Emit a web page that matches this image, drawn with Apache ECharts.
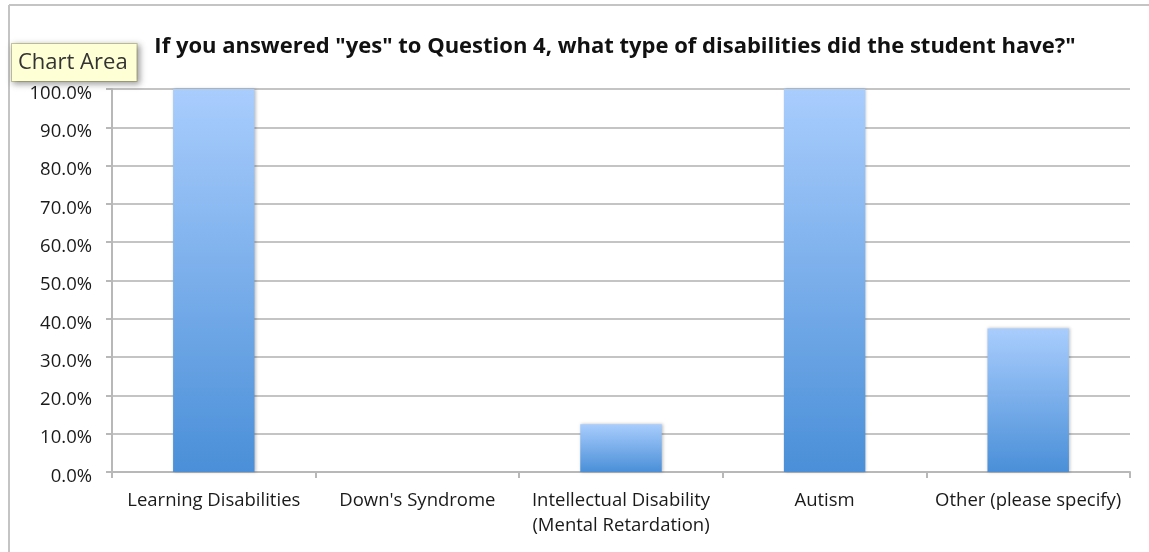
<!DOCTYPE html>
<html>
<head>
<meta charset="utf-8">
<script src="https://cdn.jsdelivr.net/npm/echarts@6/dist/echarts.min.js"></script>
<style>
html,body{margin:0;padding:0;background:#fff;}
#chart{width:1149px;height:552px;}
</style>
</head>
<body>
<div id="chart"></div>
<script>
// 数据
var categories = ['Learning Disabilities', "Down's Syndrome", 'Intellectual Disability\n(Mental Retardation)', 'Autism', 'Other (please specify)'];
var percents = [100, 0, 12.5, 100, 37.5];
var yTicks = [0, 10, 20, 30, 40, 50, 60, 70, 80, 90, 100];
var titleText = 'If you answered "yes" to Question 4, what type of disabilities did the student have?"';

var myChart = echarts.init(document.getElementById('chart'));
var font = '"Open Sans", "Noto Sans", sans-serif';

var option = {
    animation: false,
    title: {
        text: titleText,
        left: 610,
        textAlign: 'center',
        top: 31,
        textStyle: {fontFamily: font, fontSize: 22, fontWeight: 'bold', color: '#111'}
    },
    grid: {left: 112, right: 19, top: 89, bottom: 80},
    xAxis: {
        type: 'category',
        data: categories,
        axisLine: {lineStyle: {color: '#b8b8b8', width: 2}},
        axisTick: {show: true, length: 6, lineStyle: {color: '#b8b8b8', width: 2}},
        axisLabel: {fontFamily: font, fontSize: 18.5, color: '#1a1a1a', margin: 16, lineHeight: 25, interval: 0}
    },
    yAxis: {
        type: 'value',
        min: yTicks[0],
        max: yTicks[yTicks.length - 1],
        interval: 10,
        axisLine: {show: true, lineStyle: {color: '#b8b8b8', width: 2}},
        axisTick: {show: true, length: 6, lineStyle: {color: '#b8b8b8', width: 2}},
        splitLine: {lineStyle: {color: '#c4c4c4', width: 2}},
        axisLabel: {
            margin: 20,
            formatter: function (v) { return '{p|' + v.toFixed(1) + '%}'; },
            rich: {p: {fontFamily: font, fontSize: 18.5, color: '#1a1a1a', padding: [9, 0, 0, 0]}}
        }
    },
    series: [{
        type: 'bar',
        data: percents,
        barWidth: '40%',
        itemStyle: {
            color: new echarts.graphic.LinearGradient(0, 0, 0, 1, [
                {offset: 0, color: '#a9cdfd'},
                {offset: 1, color: '#4a8fd8'}
            ]),
            shadowBlur: 3,
            shadowColor: 'rgba(0,0,0,0.25)',
            shadowOffsetX: 1
        }
    }],
    graphic: [
        // 表格边框
        {type: 'line', shape: {x1: 9, y1: 5, x2: 1149, y2: 5}, style: {stroke: '#c4c4c4', lineWidth: 2}},
        {type: 'line', shape: {x1: 9, y1: 5, x2: 9, y2: 552}, style: {stroke: '#c4c4c4', lineWidth: 2}},
        // Chart Area 提示
        {
            type: 'text', left: 11, top: 43, z: 100,
            style: {
                text: 'Chart Area', fontFamily: font, fontSize: 22, fill: '#333',
                backgroundColor: '#ffffd6', borderColor: '#c8c8a0', borderWidth: 1,
                padding: [8, 9, 7, 6],
                shadowBlur: 6, shadowColor: 'rgba(0,0,0,0.35)', shadowOffsetX: 2, shadowOffsetY: 2
            }
        }
    ]
};
myChart.setOption(option);
</script>
</body>
</html>
